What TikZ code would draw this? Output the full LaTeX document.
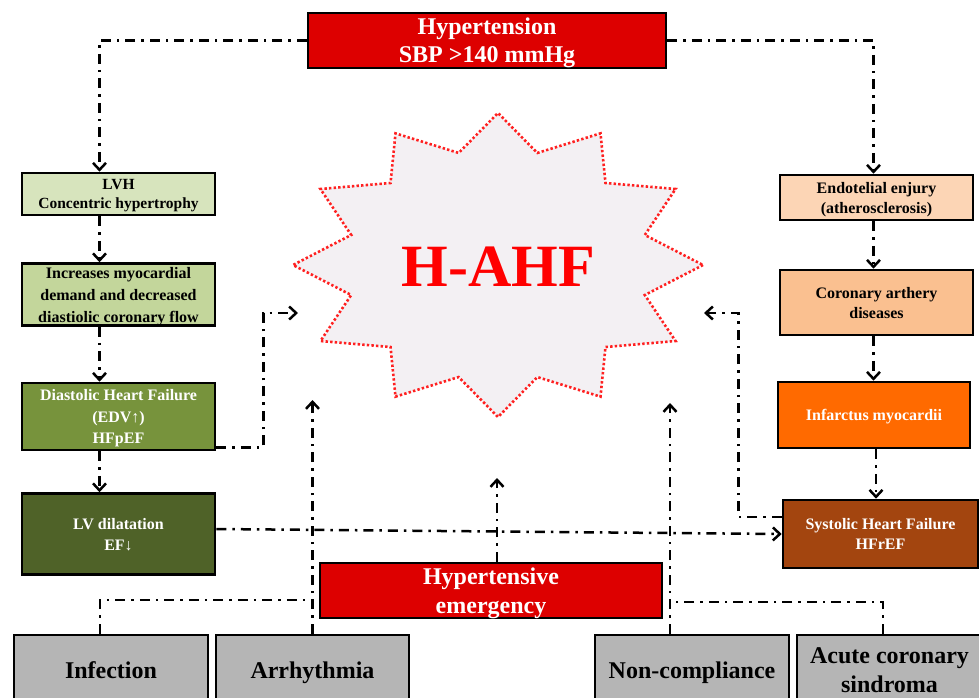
\documentclass[tikz,border=0pt]{standalone}
\usepackage{fontspec}
\setmainfont{Liberation Serif}
\usetikzlibrary{arrows.meta}
\definecolor{hred}{HTML}{DD0000}
\definecolor{gA}{HTML}{D7E4BD}
\definecolor{gB}{HTML}{C3D69B}
\definecolor{gC}{HTML}{77933C}
\definecolor{gD}{HTML}{4F6228}
\definecolor{oA}{HTML}{FCD5B5}
\definecolor{oB}{HTML}{FAC090}
\definecolor{oC}{HTML}{FF6A00}
\definecolor{oD}{HTML}{A3450F}
\definecolor{gry}{HTML}{B5B5B5}
\definecolor{starfill}{HTML}{F3F0F3}
\definecolor{starred}{HTML}{FF2020}
\begin{document}
\begin{tikzpicture}[x=1pt,y=-1pt,
  box/.style={draw=black, line width=2.6pt, inner sep=0pt, align=center, text depth=0pt,
    font=\bfseries\fontsize{16}{20}\selectfont},
  bigbox/.style={box, font=\bfseries\fontsize{24}{29}\selectfont},
  link/.style={line width=2.5pt, dash pattern=on 10pt off 6pt on 2.5pt off 6pt},
  conn/.style={link, -{Straight Barb[length=7pt,width=13pt]}}]
\useasboundingbox (0,0) rectangle (979,697);
\clip (0,0) rectangle (979,697);

% star
\begin{scope}[shift={(498,265)}]
\filldraw[fill=starfill, draw=starred, line width=2.6pt, dash pattern=on 2.4pt off 2.2pt]
  plot[samples at={0,1,...,23}, variable=\k]
  ({ifthenelse(mod(\k,2)==0,205,152)*cos(15*\k)}, {ifthenelse(mod(\k,2)==0,152,116)*sin(15*\k)}) -- cycle;
\end{scope}
\node[text=red, font=\bfseries\fontsize{60}{60}\selectfont, inner sep=0pt] (hahf) at (498,267) {H-AHF};

% top
\node[bigbox, fill=hred, text=white, minimum width=358pt, minimum height=55pt,
  font=\bfseries\fontsize{24}{28}\selectfont] (hyp) at (487,40.5) {Hypertension\\SBP >140 mmHg};

% left column
\node[box, fill=gA, minimum width=193pt, minimum height=42pt, font=\bfseries\fontsize{15.5}{18.5}\selectfont] (lvh) at (118.5,194) {LVH\\Concentric hypertrophy};
\node[box, fill=gB, minimum width=193pt, minimum height=62pt, font=\bfseries\fontsize{16}{22}\selectfont] (inc) at (118.5,294.5) {Increases myocardial\\demand and decreased\\diastiolic coronary flow};
\node[box, fill=gC, text=white, minimum width=193pt, minimum height=67pt, font=\bfseries\fontsize{16}{21.5}\selectfont] (dia) at (118.5,416.5) {Diastolic Heart Failure\\(EDV↑)\\HFpEF};
\node[box, fill=gD, text=white, minimum width=193pt, minimum height=81pt, font=\bfseries\fontsize{16}{21}\selectfont] (lvd) at (118.5,534) {LV dilatation\\EF↓};

% right column
\node[box, fill=oA, minimum width=193pt, minimum height=45pt] (endo) at (876.5,197.5) {Endotelial enjury\\(atherosclerosis)};
\node[box, fill=oB, minimum width=193pt, minimum height=65pt] (cor) at (876.5,302.5) {Coronary arthery\\diseases};
\node[box, fill=oC, text=white, minimum width=192pt, minimum height=66pt] (inf) at (874,415) {Infarctus myocardii};
\node[box, fill=oD, text=white, minimum width=195pt, minimum height=68pt] (sys) at (880.5,534) {Systolic Heart Failure\\HFrEF};

% emergency
\node[bigbox, fill=hred, text=white, minimum width=342pt, minimum height=55pt] (emg) at (491,590.5) {Hypertensive\\emergency};

% bottom boxes
\node[bigbox, fill=gry, minimum width=194pt, minimum height=70pt] (infb) at (111,670) {Infection};
\node[bigbox, fill=gry, minimum width=193pt, minimum height=70pt] (arr) at (312.5,670) {Arrhythmia};
\node[bigbox, fill=gry, minimum width=194pt, minimum height=70pt] (nonc) at (692,670) {Non-compliance};
\node[bigbox, fill=gry, minimum width=185pt, minimum height=70pt] (acs) at (889.5,670) {Acute coronary\\sindroma};

% targets near the star
\coordinate (sL) at (298,313);
\coordinate (sR) at (704,313);
\coordinate (sB) at (497,478);
\coordinate (sA) at (312.5,400);
\coordinate (sN) at (670,403);

% connectors
\draw[conn] (hyp.west) -| ([xshift=-19pt]lvh.north);
\draw[conn] (hyp.east) -| ([xshift=-3pt]endo.north);
\draw[conn] ([xshift=-19pt]lvh.south) -- ([xshift=-19pt]inc.north);
\draw[conn] ([xshift=-19pt]inc.south) -- ([xshift=-19pt]dia.north);
\draw[conn] ([xshift=-19pt]dia.south) -- ([xshift=-19pt]lvd.north);
\draw[conn] ([xshift=-3pt]endo.south) -- ([xshift=-3pt]cor.north);
\draw[conn] ([xshift=-3pt]cor.south) -- ([xshift=-0.5pt]inf.north);
\draw[conn] ([xshift=2pt]inf.south) -- ([xshift=-4.5pt]sys.north);
\draw[conn] ([yshift=4pt]dia.south east) -- ++(47,0) |- (sL);
\draw[conn] ([yshift=5pt]lvd.east) -- (sys.west);
\draw[conn] ([yshift=17pt]sys.west) -- ++(-43,0) |- (sR);
\draw[conn] ([xshift=6pt]emg.north) -- (sB);
\draw[conn] (arr.north) -- (sA);
\draw[conn] ([xshift=-22pt]nonc.north) -- (sN);
\draw[link] ([xshift=-11pt]infb.north) |- (312.5,600);
\draw[link] ([xshift=-6.5pt]acs.north) |- (670,602);
\end{tikzpicture}
\end{document}
